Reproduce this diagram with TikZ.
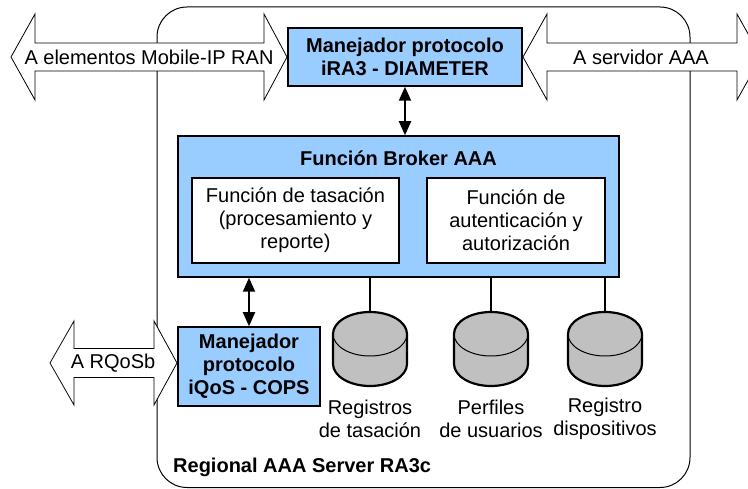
\documentclass[tikz,border=0pt]{standalone}
\usepackage{fontspec}
\setmainfont{Liberation Sans}
\usetikzlibrary{arrows.meta}
\definecolor{boxblue}{HTML}{99CCFF}
\definecolor{cylgray}{HTML}{C0C0C0}
\begin{document}
\begin{tikzpicture}[x=1pt,y=-1pt,
  txt/.style={font=\fontsize{20}{23}\selectfont, align=center, inner sep=0pt},
  btxt/.style={font=\fontsize{20}{23}\selectfont\bfseries, align=center, inner sep=0pt},
  bluebox/.style={draw, fill=boxblue, line width=1.5pt, btxt},
  whitebox/.style={draw, fill=white, line width=1.5pt, txt},
  dbl/.style={line width=2pt, {Triangle[width=12pt,length=14pt]}-{Triangle[width=12pt,length=14pt]}},
  blockarrow/.style={draw, fill=white, line width=0.8pt, line join=miter},
  link/.style={line width=1.5pt},
  anchorbox/.style={minimum width=74pt, minimum height=74pt, inner sep=0pt},
  dbcyl/.pic={
    \filldraw[fill=cylgray, line width=2.2pt] (-37,-15) -- (-37,15)
      arc[start angle=180, end angle=0, x radius=37, y radius=22] -- (37,-15)
      arc[start angle=0, end angle=-180, x radius=37, y radius=22] -- cycle;
    \draw[line width=1pt] (-37,-15) arc[start angle=180, end angle=0, x radius=37, y radius=22];
  }
]
\useasboundingbox (0,0) rectangle (748,489);
\clip (0,0) rectangle (748,489);

% outer server outline
\draw[line width=1pt, rounded corners=30pt] (157,7) rectangle (690,487.5);

% block arrows
\draw[blockarrow] (11,57) -- (35,14) -- (35,43) -- (264,43) -- (264,14) -- (287,57)
  -- (264,100) -- (264,71) -- (35,71) -- (35,100) -- cycle;
\node[txt] (ranlbl) at (149,57) {A elementos Mobile-IP RAN};

\draw[blockarrow] (523,57) -- (547,14) -- (547,43) -- (737,43) -- (737,14) -- (761,57)
  -- (737,100) -- (737,71) -- (547,71) -- (547,100) -- cycle;
\node[txt] (aaalbl) at (641,57) {A servidor AAA};

\draw[blockarrow] (50,363) -- (74,321) -- (74,348.5) -- (154,348.5) -- (154,321) -- (177,363)
  -- (154,405) -- (154,377.5) -- (74,377.5) -- (74,405) -- cycle;
\node[txt] (qoslbl) at (113,363) {A RQoSb};

% boxes
\node[bluebox, minimum width=234pt, minimum height=58pt] (diam) at (405,57)
  {Manejador protocolo\\iRA3 - DIAMETER};
\node[bluebox, minimum width=441pt, minimum height=141pt] (broker) at (398.5,206.5) {};
\node[btxt] (brokertitle) at (398.5,158) {Función Broker AAA};
\node[whitebox, minimum width=207pt, minimum height=85pt] (tasa) at (295.5,220.5)
  {Función de tasación\\(procesamiento y\\reporte)};
\node[whitebox, minimum width=178pt, minimum height=85pt] (auth) at (516,220.5)
  {Función de\\autenticación y\\autorización};
\node[bluebox, minimum width=142pt, minimum height=79pt] (cops) at (249,366.5)
  {Manejador\\protocolo\\iQoS - COPS};

% connectors
\draw[dbl] (diam.south) -- (diam.south |- broker.north);
\draw[dbl] (cops.north) -- (cops.north |- broker.south);

% databases
\node[anchorbox] (cyl1) at (370,349) {};
\node[anchorbox] (cyl2) at (491,349) {};
\node[anchorbox] (cyl3) at (605,349) {};
\pic at (370,349) {dbcyl};
\pic at (491,349) {dbcyl};
\pic at (605,349) {dbcyl};
\draw[link] (cyl1.north |- broker.south) -- (cyl1.north);
\draw[link] (cyl2.north |- broker.south) -- (cyl2.north);
\draw[link] (cyl3.north |- broker.south) -- (cyl3.north);

\node[txt] (lbl1) at (370,419) {Registros\\de tasación};
\node[txt] (lbl2) at (491,419) {Perfiles\\de usuarios};
\node[txt] (lbl3) at (605,419) {Registro\\dispositivos};

\node[btxt, anchor=west] (region) at (173,467) {Regional AAA Server RA3c};
\end{tikzpicture}
\end{document}
